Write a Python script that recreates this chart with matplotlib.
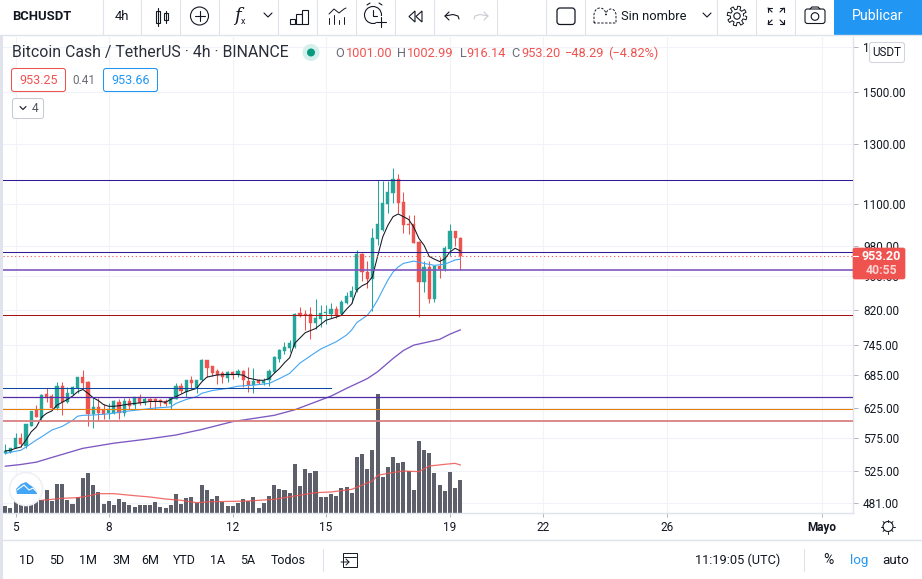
import matplotlib
matplotlib.use('Agg')
import matplotlib.pyplot as plt
import matplotlib.transforms as mtransforms
from matplotlib.patches import Circle, FancyBboxPatch, Polygon, Rectangle
from matplotlib.ticker import NullFormatter, NullLocator
import numpy as np

plt.rcParams['font.family'] = ['Roboto', 'DejaVu Sans']

opens = [552, 553, 560, 576, 562, 595, 621, 608, 649, 646, 625, 665, 635, 649, 660, 682, 672, 615, 626, 622,
         616, 616, 635, 616, 638, 631, 645, 634, 640, 640, 639.5, 638, 632, 641, 665, 654, 675, 660, 675, 713,
         702, 693, 688, 680, 691, 686, 692, 674, 666, 675, 670, 676, 691, 715, 733, 739, 741, 814, 810, 810,
         791, 800, 814, 812, 822, 810, 835, 850, 866, 957, 911, 893, 997, 1023, 1100, 1135, 1178, 1107, 1040, 1040,
         990, 886, 923, 845, 926, 918, 971, 1020, 1001.00]
highs = [566, 560, 583, 583, 598, 620, 630, 650, 661, 649, 671, 671, 663, 665, 682, 694, 674, 645, 643, 632,
         633, 639, 640, 643, 642, 645, 650, 645, 643, 642, 641, 641, 644, 669, 669, 676, 683, 676, 715, 714,
         702, 696, 692, 692, 693, 697, 694, 701, 698, 678, 680, 696, 721, 736, 751, 754, 813, 827, 821, 827,
         845, 831, 831, 837, 829, 843, 863, 877, 968, 959, 938, 1028, 1175, 1173, 1173, 1216, 1194, 1136, 1067, 1067,
         992, 939, 938, 927, 951, 978, 1041, 1021, 1002.99]
lows = [551, 552, 559, 561, 560, 594, 609, 603, 635, 621, 622, 613, 633, 648, 651, 660, 594, 592, 603, 606,
        607, 615, 607, 612, 624, 623, 630, 631, 624, 624, 628, 628, 623, 640, 652, 645, 658, 652, 674, 681,
        683, 668, 669, 671, 678, 681, 663, 654, 652, 668, 667, 665, 689, 711, 726, 730, 739, 804, 776, 757,
        779, 782, 789, 802, 801, 808, 833, 835, 863, 889, 871, 817, 981, 1021, 1074, 1102, 1072, 1016, 1012, 986,
        804, 861, 835, 839, 897, 914, 953, 978, 916.14]
closes = [555, 560, 575, 566, 598, 620, 609, 648, 642, 625, 665, 635, 652, 663, 682, 669, 615, 626, 617, 615,
          624, 637, 617, 637, 628, 645, 634, 640, 638, 637, 635, 632, 642, 665, 655, 676, 669, 676, 713, 699,
          688, 684.5, 681, 690, 685, 692, 675, 666, 673, 670, 674, 692, 719, 734, 741, 748, 812, 807, 808, 791,
          802, 814, 815, 822, 808, 838, 852, 865, 957, 911, 893, 1000, 1040, 1102, 1137, 1178, 1104, 1039, 1039, 988,
          887, 923, 845, 927, 918, 975, 1020, 1001, 953.20]
volumes = [21, 15, 38, 26, 28, 28, 46, 38, 69, 36, 86, 86, 40, 28, 48, 105, 120, 84, 63, 28,
           36, 24, 42, 33, 24, 19, 24, 24, 24, 33, 18, 15, 24, 57, 28, 45, 48, 30, 84, 69,
           42, 51, 32, 21, 21, 30, 42, 36, 48, 15, 30, 51, 84, 72, 69, 60, 147, 81, 132, 120,
           126, 48, 48, 57, 51, 75, 78, 60, 168, 177, 132, 189, 357, 108, 138, 168, 150, 153, 126, 69,
           216, 189, 180, 120, 84, 66, 123, 75, 99]

ma_short_x = [0, 1, 2, 3, 4, 5, 6, 7, 8, 9, 10, 11, 12, 13, 14, 15, 16, 17, 18, 19, 20, 21, 22, 24, 26, 28, 30, 31, 32,
              33, 35, 37, 38, 39, 41, 43, 45, 46, 47, 49, 50, 51, 52, 53, 54, 55, 56, 58, 60, 62, 64, 65, 66, 67,
              68, 69, 70, 71, 72, 73, 74, 75, 76, 77, 78, 79, 80, 81, 82, 83, 84, 85, 86, 87, 88]
ma_short = [555, 556, 559, 561, 572, 585, 593, 609, 616, 620, 630, 635, 640, 646, 654, 658, 651, 643, 638, 631, 628,
            628, 629, 632, 634, 636.5, 636.5, 635, 640, 645, 654, 660, 672, 681, 685, 686, 686, 684.5, 679, 675, 675,
            678, 688, 697, 708.5, 718.5, 748, 770, 779, 797, 804, 808, 822, 834, 867, 877, 883, 899, 951, 1004, 1037,
            1062, 1070, 1062, 1054, 1032, 1000, 981, 951, 944, 938, 945, 963, 973, 966]
ma_mid_x = [0, 1, 3, 4, 6, 7, 9, 11, 13, 14, 15, 17, 20, 23, 25, 29, 32, 33, 35, 37, 38, 40, 43, 45, 48, 51, 53, 55, 57,
            59, 61, 64, 66, 67, 68, 70, 71, 72, 73, 74, 75, 76, 77, 79, 81, 83, 85, 87, 88]
ma_mid = [551, 553, 556, 561, 572, 577, 588, 594, 604, 611, 612.5, 613, 615, 619, 621, 625, 627, 633, 640, 645, 651,
          656, 660, 664, 666, 669, 678, 688, 708, 722, 736, 751, 765, 776, 792, 808, 823, 843, 867, 891, 911, 924,
          933, 939, 933, 928, 931, 942, 944]
ma_long_x = [0, 3, 6, 9, 15, 21, 27, 33, 38, 44, 52, 56, 63, 66, 70, 72, 75, 77, 79, 82, 84, 86, 88]
ma_long = [532, 534.5, 538, 545, 559, 567, 573, 580, 589, 602, 612.5, 622, 646, 660, 678, 691, 717, 733, 744, 751,
           756, 767, 776]
vol_ma_x = [7, 11, 14, 16, 18, 21, 25, 28, 31, 34, 37, 40, 44, 47, 52, 56, 60, 63, 67, 71, 72, 74, 77, 80, 82, 85, 87, 88]
vol_ma = [38, 44, 46, 51, 58, 58, 52, 48, 42, 38, 31, 34, 35, 36, 41, 51, 61, 63, 71, 96, 113, 119, 126, 124, 141, 146,
          149, 144]

hline_prices = [1175, 962, 915, 808, 645, 623.5, 603]
hline_colors = ['#311b92', '#311b92', '#7e57c2', '#a31515', '#512da8', '#e67e00', '#d98080']
hline_widths = [0.75, 0.75, 1.2, 0.75, 0.9, 0.75, 1.3]
segment_price = 660
segment_end = 63
last_price = 953.20

price_ticks = [1700, 1500, 1300, 1100, 980, 900, 820, 745, 685, 625, 575, 525, 481]
date_ticks = [2, 20, 44, 62, 86, 104, 128, 158]
date_labels = ['5', '8', '12', '15', '19', '22', '26', 'Mayo']
range_labels = ['1D', '5D', '1M', '3M', '6M', 'YTD', '1A', '5A', 'Todos']

UP = '#26a69a'
DOWN = '#ef5350'
INK = '#131722'
LINE = '#e0e3eb'
VOL_TOP = 1428.0

fig = plt.figure(figsize=(9.22, 5.79), dpi=100, facecolor='white')

# price pane
ax = fig.add_axes([3 / 922, (579 - 513) / 579, 850 / 922, 476 / 579], zorder=1)
ax.set_yscale('log')
ax.set_xlim(-0.445, 163.96)
ax.set_ylim(467.3, 1747)
ax.yaxis.tick_right()
ax.set_yticks(price_ticks)
ax.set_yticklabels(['%.2f' % p for p in price_ticks])
ax.yaxis.set_minor_locator(NullLocator())
ax.yaxis.set_minor_formatter(NullFormatter())
ax.set_xticks(date_ticks)
ax.set_xticklabels(date_labels)
ax.tick_params(axis='y', length=3.6, width=0.7, color='#b2b5be', labelsize=8.5, labelcolor=INK, pad=3.6)
ax.tick_params(axis='x', length=3, width=0.7, color='#b2b5be', labelsize=8.5, labelcolor=INK, pad=2.8)
ax.get_xticklabels()[-1].set_fontweight('bold')
ax.grid(True, color='#f0f3fa', linewidth=0.75)
ax.set_axisbelow(True)
for side in ['top', 'left']:
    ax.spines[side].set_visible(False)
for side in ['right', 'bottom']:
    ax.spines[side].set_color(LINE)
    ax.spines[side].set_linewidth(1.0)

# volume uses the x data of the pane and its own height scale
trans = mtransforms.blended_transform_factory(ax.transData, ax.transAxes)
bars = np.arange(len(closes))
ax.bar(bars, np.array(volumes) / VOL_TOP, width=0.78, color='#5d606b', transform=trans, zorder=1.5)
ax.plot(vol_ma_x, np.array(vol_ma) / VOL_TOP, color='#ef5350', lw=0.9, alpha=0.85, transform=trans, zorder=1.6)

# candles
colors = [UP if c >= o else DOWN for o, c in zip(opens, closes)]
ax.vlines(bars, lows, highs, colors=colors, lw=0.75, zorder=2)
ax.bar(bars, np.abs(np.array(closes) - np.array(opens)), bottom=np.minimum(opens, closes), width=0.62,
       color=colors, edgecolor=colors, linewidth=0.3, zorder=2.1)

ax.plot(ma_long_x, ma_long, color='#7e57c2', lw=0.95, zorder=3)
ax.plot(ma_mid_x, ma_mid, color='#42a5f5', lw=0.8, zorder=3)
ax.plot(ma_short_x, ma_short, color='#131722', lw=0.75, zorder=3.1)

for p, c, w in zip(hline_prices, hline_colors, hline_widths):
    ax.axhline(p, color=c, lw=w, zorder=4)
ax.plot([-0.445, segment_end], [segment_price, segment_price], color='#0d47a1', lw=0.75, zorder=4)
ax.axhline(last_price, color=DOWN, lw=0.8, ls=(0, (1, 2.5)), zorder=4)
ax.set_xlim(-0.445, 163.96)
ax.set_ylim(467.3, 1747)

# everything around the chart is placed in figure pixels
ui = fig.add_axes([0, 0, 1, 1], zorder=5)
ui.set_xlim(0, 922)
ui.set_ylim(579, 0)
ui.axis('off')
ui.patch.set_alpha(0)


def label(x, y, s, size=8.6, color=INK, ha='left', **kw):
    ui.text(x, y, s, fontsize=size, color=color, ha=ha, va='center', **kw)


def stroke(xs, ys, color=INK, lw=0.8, **kw):
    ui.plot(xs, ys, color=color, lw=lw, solid_capstyle='round', **kw)


def box(x, y, w, h, edge, face='white', lw=0.75, radius=2.5, **kw):
    ui.add_patch(FancyBboxPatch((x + radius, y + radius), w - 2 * radius, h - 2 * radius,
                                boxstyle='round,pad=%s' % radius, fc=face, ec=edge, lw=lw, **kw))


def chevron(x, y, color=INK, size=4):
    stroke([x - size, x, x + size], [y - size / 2, y + size / 2, y - size / 2], color=color, lw=0.8)


# frame
ui.add_patch(Rectangle((0, 35), 3, 544, fc=LINE, ec='none'))
stroke([0, 922], [35, 35], color=LINE, lw=1)
stroke([0, 922], [540, 540], color=LINE, lw=1)
for x in [103, 141, 180, 219, 278, 317, 356, 395, 434, 497, 546, 585, 717, 756, 795]:
    stroke([x, x], [0, 35], color=LINE)
ui.add_patch(Rectangle((834, 0), 88, 35, fc='#2196f3', ec='none'))
label(878, 16.5, 'Publicar', size=10.2, color='white', ha='center')

# toolbar
label(12, 16.5, 'BCHUSDT', size=9.4, fontweight='bold')
label(122, 16.5, '4h', size=9.4, ha='center')
# candles icon
stroke([158, 158], [8, 26])
ui.add_patch(Rectangle((156, 11), 4, 12, fc='white', ec=INK, lw=0.8))
stroke([166, 166], [11, 23])
ui.add_patch(Rectangle((164, 13), 4, 7, fc='white', ec=INK, lw=0.8))
ui.add_patch(Circle((199.5, 16), 9, fc='white', ec=INK, lw=0.8))
stroke([194.5, 204.5], [16, 16])
stroke([199.5, 199.5], [11, 21])
ui.text(237, 16, 'f', fontsize=13, color=INK, ha='center', va='center', style='italic', family='DejaVu Serif')
label(243, 21, 'x', size=6.5, ha='center')
chevron(268, 15)
# bars icon
for x, y in [(289.5, 19), (296, 14), (302, 10)]:
    ui.add_patch(Rectangle((x, y), 5.5, 24 - y, fc='white', ec=INK, lw=0.8))
# indicators icon
for x, h in [(329, 18), (334, 15), (339, 20), (344, 17)]:
    stroke([x, x], [h, 24], lw=0.7)
stroke([329, 334, 339, 344, 346], [14, 9, 13, 9, 8], lw=0.7)
# alarm
ui.add_patch(Circle((373, 15), 8.5, fc='none', ec=INK, lw=0.8))
stroke([373, 373, 377], [10, 16, 16])
stroke([367, 370], [5, 3])
stroke([379, 382], [3, 5])
ui.add_patch(Rectangle((376, 16), 10, 10, fc='white', ec='none'))
stroke([376, 386], [22, 22])
stroke([381, 381], [17, 27])
# rewind
ui.add_patch(Polygon([(415, 11), (409, 16.5), (415, 22)], closed=True, fc='white', ec=INK, lw=0.8))
ui.add_patch(Polygon([(422, 11), (416, 16.5), (422, 22)], closed=True, fc='white', ec=INK, lw=0.8))
# undo, redo
stroke([449, 445, 449], [12, 16, 20])
stroke([445, 453, 458, 459], [16, 14.5, 16, 19])
stroke([484, 488, 484], [12, 16, 20], color='#c8cbd3')
stroke([488, 480, 475, 474], [16, 14.5, 16, 19], color='#c8cbd3')
box(557, 8, 18, 16.5, INK, lw=0.9, radius=3)
# cloud
t = np.linspace(np.pi, 0, 30)
stroke(np.r_[594, 600 + 6 * np.cos(t), 611 + 5 * np.cos(t), 616, 594],
       np.r_[23, 15 + 7 * np.sin(-t), 15 + 6 * np.sin(-t), 23, 23], lw=0.7, ls=(0, (2.5, 1.5)))
label(621, 16.5, 'Sin nombre', size=9.3)
chevron(707, 15)
# gear
ang = np.linspace(0, 2 * np.pi, 97)
rad = 8.2 + 1.6 * np.sign(np.sin(8 * ang))
stroke(737 + rad * np.cos(ang), 16 + rad * np.sin(ang), lw=0.7)
ui.add_patch(Circle((737, 16), 3.2, fc='none', ec=INK, lw=0.8))
# fullscreen
for sx, sy in [(-1, -1), (1, -1), (-1, 1), (1, 1)]:
    cx, cy = 776 + sx * 8, 16 + sy * 8
    stroke([cx, cx, cx - sx * 4], [cy - sy * 4, cy, cy], lw=0.8)
    stroke([cx, cx - sx * 4], [cy, cy - sy * 4], lw=0.8)
# camera
box(805, 9, 20, 14.5, INK, lw=0.8, radius=2.5)
stroke([810, 812, 818, 820], [9, 7, 7, 9], lw=0.8)
ui.add_patch(Circle((815, 16.5), 3.8, fc='none', ec=INK, lw=0.8))

# legend
label(12, 53, 'Bitcoin Cash / TetherUS · 4h · BINANCE', size=11.4, color='#2a2e39')
ui.add_patch(Circle((311, 52.5), 8.5, fc='#d5efec', ec='none'))
ui.add_patch(Circle((311, 52.5), 4, fc='#089981', ec='none'))
for x, s, c in [(335.5, 'O', '#6a6d78'), (346, '1001.00', DOWN), (397, 'H', '#6a6d78'), (407, '1002.99', DOWN),
                (459.5, 'L', '#6a6d78'), (466, '916.14', DOWN), (511, 'C', '#6a6d78'), (521, '953.20', DOWN),
                (565, '−48.29', DOWN), (608, '(−4.82%)', DOWN)]:
    label(x, 53.5, s, size=9.2, color=c)
box(11.5, 68.5, 54, 23, DOWN)
label(38.5, 80.5, '953.25', size=9, color=DOWN, ha='center')
label(84, 80.5, '0.41', size=8.5, color='#6a6d78', ha='center')
box(103.5, 68.5, 54, 23, '#2196f3')
label(130.5, 80.5, '953.66', size=9, color='#2196f3', ha='center')
box(12.5, 98.5, 31, 20, '#c9cbd3')
chevron(23, 108, size=3)
label(35, 108.5, '4', size=8.6, color='#50535e', ha='center')

# scale badges
box(869.5, 42.5, 35, 20, '#d1d4dc')
label(887, 52.5, 'USDT', size=8.4, ha='center')
box(853, 248, 52, 31, DOWN, face=DOWN, lw=0.5, radius=2)
stroke([853, 858], [256, 256], color='white')
label(881, 256, '953.20', size=9, color='white', ha='center', fontweight='bold')
label(881, 271, '40:55', size=8.8, color='#fcd3d2', ha='center', fontweight='bold')

# logo over the volume bars
ui.add_patch(Circle((26, 489), 16.5, fc='white', ec='#eef0f4', lw=1.2))
ui.add_patch(Polygon([(16, 489), (21, 484), (26, 482), (30, 485), (33, 487), (36, 490), (37, 494), (17, 494)],
                     closed=True, fc='#42a5f5', ec='none'))
stroke([17, 24, 29, 33, 37], [490, 485, 490, 488, 492], color='white', lw=0.8)

# sun icon under the scale
ui.add_patch(Circle((888, 526.5), 5, fc='none', ec=INK, lw=0.8))
for a in np.arange(0, 2 * np.pi, np.pi / 4):
    stroke([888 + 5 * np.cos(a), 888 + 7 * np.cos(a)], [526.5 + 5 * np.sin(a), 526.5 + 7 * np.sin(a)], lw=0.7)

# bottom bar
for x, s in zip([27, 57, 88, 121, 150, 184, 218, 248, 288], range_labels):
    label(x, 560.5, s, size=9, ha='center')
stroke([323, 323], [549, 571], color=LINE)
ui.add_patch(Rectangle((343, 553), 14, 14, fc='none', ec=INK, lw=0.7))
stroke([341, 349, 346], [562, 562, 559], lw=0.7)
stroke([346, 349], [565, 562], lw=0.7)
stroke([344, 356], [556.5, 556.5], lw=0.7)
label(695, 560.5, '11:19:05 (UTC)', size=9.2)
stroke([804, 804], [549, 571], color=LINE)
label(828, 560.5, '%', size=10, ha='center')
label(859, 560.5, 'log', size=9.6, color='#2196f3', ha='center')
label(896, 560.5, 'auto', size=9.6, ha='center')

fig.savefig('out.png', dpi=100)
